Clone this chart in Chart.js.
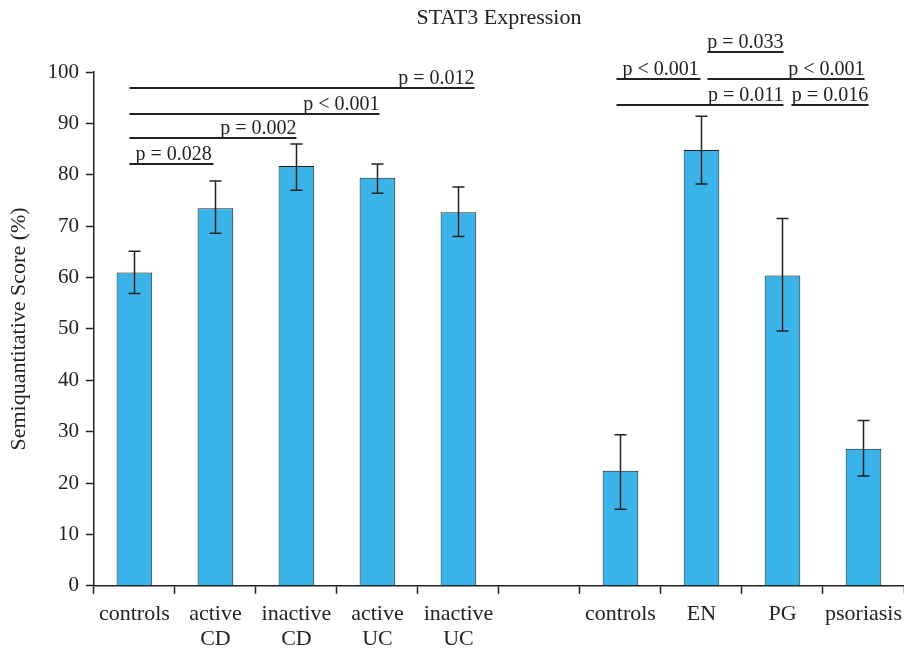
<!DOCTYPE html>
<html>
<head>
<meta charset="utf-8">
<script src="https://cdn.jsdelivr.net/npm/chart.js@4"></script>
<style>
  body { margin: 0; background: #fff; }
  canvas { display: block; }
</style>
</head>
<body>
<canvas class="grafico" width="904" height="648"></canvas>
<script>
const titulo = "STAT3 Expression";
const categorias = ["controls", ["active", "CD"], ["inactive", "CD"], ["active", "UC"], ["inactive", "UC"], "", "controls", "EN", "PG", "psoriasis"];
const valores = [61.0, 73.5, 81.7, 79.4, 72.7, null, 22.4, 84.8, 60.4, 26.7];
const errorBajo = [56.9, 68.6, 77.0, 76.4, 68.0, null, 14.9, 78.2, 49.6, 21.4];
const errorAlto = [65.1, 78.8, 86.0, 82.1, 77.6, null, 29.4, 91.4, 71.5, 32.2];
const yTicks = [0, 10, 20, 30, 40, 50, 60, 70, 80, 90, 100];

// comparaciones: desde / hasta (indice de categoria), altura y texto
const comparaciones = [
  { desde: 0, hasta: 1, y: 82.1, texto: "p = 0.028", lado: "left" },
  { desde: 0, hasta: 2, y: 87.1, texto: "p = 0.002", lado: "right" },
  { desde: 0, hasta: 3, y: 91.8, texto: "p < 0.001", lado: "right" },
  { desde: 0, hasta: 4, y: 96.9, texto: "p = 0.012", lado: "right" },
  { desde: 6, hasta: 7, y: 98.6, texto: "p < 0.001", lado: "left" },
  { desde: 7, hasta: 8, y: 103.9, texto: "p = 0.033", lado: "center" },
  { desde: 7, hasta: 9, y: 98.6, texto: "p < 0.001", lado: "right" },
  { desde: 6, hasta: 8, y: 93.6, texto: "p = 0.011", lado: "right" },
  { desde: 8, hasta: 9, y: 93.6, texto: "p = 0.016", lado: "center" }
];
// pequeños ajustes en pixeles para los extremos de cada linea
const ajustes = [[-5, -2], [-5, 0], [-5, 2], [-5, 16], [-4, -1], [6, 1], [6, 1], [-4, 1], [9, 5]];

const negro = "#222";
const serif = "'Liberation Serif', 'Times New Roman', serif";

const barrasError = {
  id: "barrasError",
  afterDatasetsDraw(chart) {
    const ctx = chart.ctx;
    const y = chart.scales.y;
    const meta = chart.getDatasetMeta(0);
    ctx.save();
    ctx.strokeStyle = negro;
    ctx.lineWidth = 1.5;
    meta.data.forEach((bar, i) => {
      if (valores[i] === null) return;
      const x = Math.round(bar.x) + 0.5;
      const y1 = y.getPixelForValue(errorBajo[i]);
      const y2 = y.getPixelForValue(errorAlto[i]);
      ctx.beginPath();
      ctx.moveTo(x, y1); ctx.lineTo(x, y2);
      ctx.moveTo(x - 6, y1); ctx.lineTo(x + 6, y1);
      ctx.moveTo(x - 6, y2); ctx.lineTo(x + 6, y2);
      ctx.stroke();
    });
    ctx.restore();
  }
};

const significancia = {
  id: "significancia",
  afterDraw(chart) {
    const ctx = chart.ctx;
    const xs = chart.scales.x;
    const ys = chart.scales.y;
    const area = chart.chartArea;
    ctx.save();
    // titulo centrado sobre el area del grafico
    ctx.fillStyle = negro;
    ctx.font = "22px " + serif;
    ctx.textAlign = "center";
    ctx.textBaseline = "middle";
    ctx.fillText(titulo, (area.left + area.right) / 2, 18);

    ctx.strokeStyle = negro;
    ctx.lineWidth = 2;
    ctx.font = "20px " + serif;
    ctx.textBaseline = "alphabetic";
    comparaciones.forEach((c, i) => {
      const x1 = xs.getPixelForValue(c.desde) + ajustes[i][0];
      const x2 = xs.getPixelForValue(c.hasta) + ajustes[i][1];
      const yy = Math.round(ys.getPixelForValue(c.y));
      ctx.beginPath();
      ctx.moveTo(x1, yy); ctx.lineTo(x2, yy);
      ctx.stroke();
      if (c.lado === "left") {
        ctx.textAlign = "left";
        ctx.fillText(c.texto, x1 + 6, yy - 4);
      } else if (c.lado === "right") {
        ctx.textAlign = "right";
        ctx.fillText(c.texto, x2, yy - 4);
      } else {
        ctx.textAlign = "center";
        ctx.fillText(c.texto, (x1 + x2) / 2, yy - 4);
      }
    });
    ctx.restore();
  }
};

const canvas = document.querySelector(".grafico");
const config = {
  type: "bar",
  data: {
    labels: categorias,
    datasets: [{
      data: valores,
      backgroundColor: "#3AB4E8",
      borderColor: "#1a1a1a",
      borderWidth: 1,
      barPercentage: 0.44,
      categoryPercentage: 1
    }]
  },
  options: {
    responsive: false,
    animation: false,
    devicePixelRatio: 1,
    layout: { padding: { top: 72, left: 6, right: 0, bottom: -12 } },
    plugins: {
      legend: { display: false },
      tooltip: { enabled: false },
      title: { display: false }
    },
    scales: {
      x: {
        afterFit: (scale) => { scale.paddingRight = 0; },
        grid: { offset: true, drawOnChartArea: false, tickLength: 8, color: negro, tickWidth: 1.5 },
        border: { color: negro, width: 1.5 },
        ticks: {
          color: negro,
          font: { family: serif, size: 22, lineHeight: 1.14 },
          padding: 8,
          maxRotation: 0,
          autoSkip: false
        }
      },
      y: {
        min: 0,
        max: 100,
        afterBuildTicks: (axis) => { axis.ticks = yTicks.map((v) => ({ value: v })); },
        grid: { drawOnChartArea: false, tickLength: 8, color: negro, tickWidth: 1.5 },
        border: { color: negro, width: 1.5 },
        ticks: { color: negro, font: { family: serif, size: 21 }, padding: 7 },
        title: {
          display: true,
          text: "Semiquantitative Score (%)",
          color: negro,
          font: { family: serif, size: 22 },
          padding: { top: 0, bottom: 8 }
        }
      }
    }
  },
  plugins: [barrasError, significancia]
};
new Chart(canvas, config);
</script>
</body>
</html>
